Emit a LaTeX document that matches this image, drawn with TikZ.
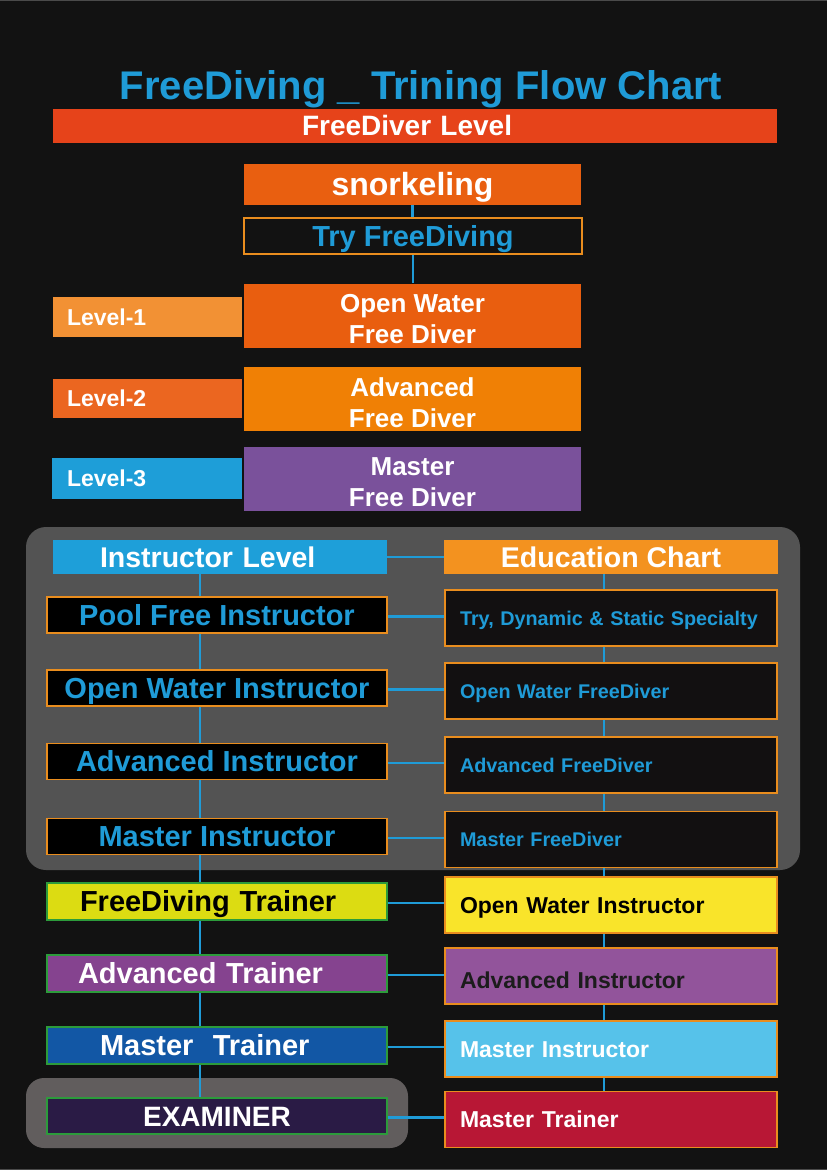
\documentclass[tikz,border=0pt]{standalone}
\usepackage{fontspec}
\setmainfont{Liberation Sans}
\definecolor{bg}{HTML}{121212}
\definecolor{grayline}{HTML}{4A4A4A}
\definecolor{cBlue}{HTML}{1F9BD7}
\definecolor{cFDL}{HTML}{E6431A}
\definecolor{cSnk}{HTML}{E95F10}
\definecolor{cOrg}{HTML}{E98D1E}
\definecolor{cOWFD}{HTML}{E95E0F}
\definecolor{cLa}{HTML}{F29134}
\definecolor{cAFD}{HTML}{F08005}
\definecolor{cLb}{HTML}{EB6620}
\definecolor{cMFD}{HTML}{7A519B}
\definecolor{cLc}{HTML}{1E9ED8}
\definecolor{cPanel}{HTML}{535353}
\definecolor{cIL}{HTML}{1E9FD9}
\definecolor{cEC}{HTML}{F3921F}
\definecolor{cDark}{HTML}{121011}
\definecolor{cFDT}{HTML}{DCDC12}
\definecolor{cGreen}{HTML}{2C9B3B}
\definecolor{cAT}{HTML}{85438F}
\definecolor{cMT}{HTML}{1257A5}
\definecolor{cEX}{HTML}{2A1B45}
\definecolor{cExPanel}{HTML}{615D5D}
\definecolor{cOWI}{HTML}{F9E42A}
\definecolor{cAI}{HTML}{92549B}
\definecolor{cAItext}{HTML}{1C1C1C}
\definecolor{cMI}{HTML}{56C2EA}
\definecolor{cMTR}{HTML}{B81735}
\newcommand\dn[1]{\raisebox{-4pt}[\height][\depth]{#1}}
\begin{document}
\begin{tikzpicture}[x=1pt,y=-1pt,
  box/.style={rectangle, inner sep=0pt, draw=none},
  ob/.style={box, draw=cOrg, line width=1.4pt},
  gb/.style={box, draw=cGreen, line width=1.4pt},
  wh/.style 2 args={minimum width=#1, minimum height=#2},
  lt/.style={text width=#1, align=left},
  sz/.style={/utils/exec={\pgfmathsetlengthmacro\capht{0.716*#1}},
    font=\fontsize{#1}{#1}\selectfont\bfseries, text height=\capht, text depth=0pt},
  szz/.style={font=\fontsize{#1}{31}\selectfont\bfseries, align=center},
  wire/.style={draw=cBlue, line width=2.6pt}]
\fill[bg] (0,0) rectangle (827,1170);
\useasboundingbox (0,0) rectangle (827,1170);
\draw[grayline, line width=1.2pt] (0,0.6) -- (827,0.6);
\draw[grayline, line width=1.2pt] (0,1169.4) -- (827,1169.4);
% panels
\fill[cPanel, rounded corners=20pt] (26,527) rectangle (800,870);
\fill[cExPanel, rounded corners=18pt] (26,1078) rectangle (408,1148);
% title
\node[sz=40, text=cBlue, inner sep=0pt] (title) at (421,85) {FreeDiving \_ Trining Flow Chart};
\node[box, wh={724}{34}, fill=cFDL, sz=28, text=white, lt=724] (fdl) at (415,125.5) {\hspace*{249pt}FreeDiver Level};
% freediver levels
\node[box, wh={337}{41}, fill=cSnk, sz=32, text=white] (snk) at (412.5,184) {snorkeling};
\node[ob, wh={338}{36}, fill=bg, sz=29, text=cBlue] (try) at (413,236) {Try FreeDiving};
\node[box, wh={337}{64}, fill=cOWFD, szz=26, text=white] (owfd) at (412.5,315.5) {\dn{Open Water}\\\dn{Free Diver}};
\node[box, wh={337}{64}, fill=cAFD, szz=26, text=white] (afd) at (412.5,399) {\dn{Advanced}\\\dn{Free Diver}};
\node[box, wh={337}{64}, fill=cMFD, szz=26, text=white] (mfd) at (412.5,478.5) {\dn{Master}\\\dn{Free Diver}};
\node[box, wh={189}{40}, fill=cLa, sz=23, text=white, lt=189] (la) at (147.5,317) {\hspace*{14pt}Level-1};
\node[box, wh={189}{39}, fill=cLb, sz=23, text=white, lt=189] (lb) at (147.5,398) {\hspace*{14pt}Level-2};
\node[box, wh={190}{41}, fill=cLc, sz=23, text=white, lt=190] (lc) at (147,478.5) {\hspace*{15pt}Level-3};
% instructor level
\node[box, wh={334}{34}, fill=cIL, sz=28.5, text=white, lt=334] (il) at (220,557) {\hspace*{47pt}Instructor Level};
\node[box, wh={334}{34}, fill=cEC, sz=28.5, text=white] (ec) at (611,557) {Education Chart};
\node[ob, wh={340}{36}, fill=black, sz=29, text=cBlue] (pfi) at (217,615) {Pool Free Instructor};
\node[ob, wh={340}{36}, fill=black, sz=29, text=cBlue] (owi) at (217,688) {Open Water Instructor};
\node[ob, wh={340}{36}, fill=black, sz=29, text=cBlue] (advi) at (217,761.5) {Advanced Instructor};
\node[ob, wh={340}{36}, fill=black, sz=29, text=cBlue] (msi) at (217,836.5) {Master Instructor};
\node[ob, wh={332}{56}, fill=cDark, sz=19.8, text=cBlue, lt=332] (tds) at (611,618) {\hspace*{15pt}Try, Dynamic \& Static Specialty};
\node[ob, wh={332}{56}, fill=cDark, sz=19.8, text=cBlue, lt=332] (owfdr) at (611,691) {\hspace*{15pt}Open Water FreeDiver};
\node[ob, wh={332}{56}, fill=cDark, sz=19.8, text=cBlue, lt=332] (afdr) at (611,765) {\hspace*{15pt}Advanced FreeDiver};
\node[ob, wh={332}{56}, fill=cDark, sz=19.8, text=cBlue, lt=332] (mfdr) at (611,839.5) {\hspace*{15pt}Master FreeDiver};
% trainers
\node[gb, wh={340}{37}, fill=cFDT, sz=29, text=black, lt=340] (fdt) at (217,901.5) {\hspace*{33pt}FreeDiving Trainer};
\node[gb, wh={340}{37}, fill=cAT, sz=29, text=white, lt=340] (at) at (217,973.5) {\hspace*{31pt}Advanced Trainer};
\node[gb, wh={340}{37}, fill=cMT, sz=29, text=white, lt=340] (mt) at (217,1045.5) {\hspace*{53pt}Master~~Trainer};
\node[gb, wh={340}{36}, fill=cEX, sz=28, text=white] (ex) at (217,1116) {EXAMINER};
\node[ob, wh={332}{56}, fill=cOWI, sz=23, text=black, lt=332] (owir) at (611,905) {\hspace*{15pt}Open Water Instructor};
\node[ob, wh={332}{56}, fill=cAI, sz=23, text=cAItext, lt=332] (air) at (611,976) {\hspace*{15pt}\raisebox{-4pt}{Advanced Instructor}};
\node[ob, wh={332}{56}, fill=cMI, sz=23, text=white, lt=332] (mir) at (611,1049) {\hspace*{15pt}Master Instructor};
\node[ob, wh={332}{56}, fill=cMTR, sz=23, text=white, lt=332] (mtr) at (611,1119.5) {\hspace*{15pt}Master Trainer};
% connectors
\coordinate (lx) at (200,0);
\coordinate (rx) at (604,0);
\draw[wire] (snk.south) -- (snk.south |- try.north);
\draw[wire] (try.south) -- (try.south |- owfd.north);
\draw[wire] (il.east) -- (ec.west);
\foreach \a/\b in {il/pfi,pfi/owi,owi/advi,advi/msi,msi/fdt,fdt/at,at/mt,mt/ex}
  \draw[wire] (\a.south -| lx) -- (\b.north -| lx);
\foreach \a/\b in {ec/tds,tds/owfdr,owfdr/afdr,afdr/mfdr,mfdr/owir,owir/air,air/mir,mir/mtr}
  \draw[wire] (\a.south -| rx) -- (\b.north -| rx);
\foreach \a/\b in {pfi/tds,owi/owfdr,advi/afdr,msi/mfdr,fdt/owir,at/air,mt/mir,ex/mtr}
  \draw[wire] ([yshift=-1.5pt]\a.east) -- ([yshift=-1.5pt]\a.east -| \b.west);
\end{tikzpicture}
\end{document}
